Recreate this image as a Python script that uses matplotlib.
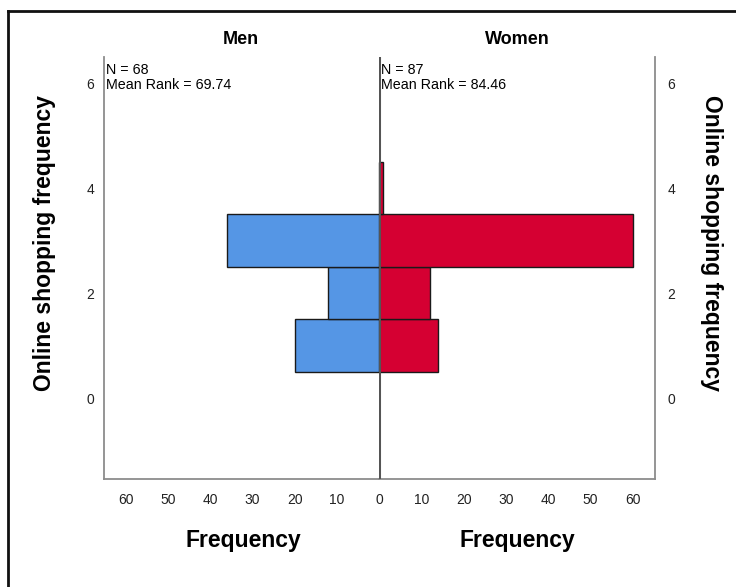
import matplotlib
matplotlib.use("Agg")
import matplotlib.pyplot as plt

plt.rcParams['font.family'] = ['Liberation Sans', 'DejaVu Sans']

# frequency per category (categories 1..4)
categories = [1, 2, 3, 4]
men_freq = [20, 12, 36, 0]
women_freq = [14, 12, 60, 1]
men_n, men_rank = 68, 69.74
women_n, women_rank = 87, 84.46
x_ticks_left = [0, 10, 20, 30, 40, 50, 60]
x_ticks_right = [10, 20, 30, 40, 50, 60]
y_ticks = [0, 2, 4, 6]

blue = '#5596e5'
red = '#d50032'
spine_col = '#8c8c8c'

fig = plt.figure(figsize=(7.36, 5.87), dpi=100)
W, H = 736, 587

def box(x0, y0, x1, y1):
    return [x0 / W, 1 - y1 / H, (x1 - x0) / W, (y1 - y0) / H]

axL = fig.add_axes(box(104, 57, 379, 479))
axR = fig.add_axes(box(379, 57, 655, 479))

for ax, freq, col, xt in [(axL, men_freq, blue, x_ticks_left),
                          (axR, women_freq, red, x_ticks_right)]:
    ax.barh(categories, freq, height=1.0, color=col, edgecolor='#1a1a1a',
            linewidth=1.0)
    ax.set_xlim(0, 65.2)
    ax.set_ylim(-1.54, 6.5)
    ax.set_xticks(xt)
    ax.set_yticks(y_ticks)
    ax.tick_params(axis='x', length=0, labelsize=10, colors='#222222', pad=10)
    ax.tick_params(axis='y', length=0, labelsize=10, colors='#222222', pad=7)
    for s in ax.spines.values():
        s.set_color(spine_col)
        s.set_linewidth(1.3)
    ax.spines['top'].set_visible(False)

axL.invert_xaxis()
axL.spines['right'].set_visible(False)
axR.spines['left'].set_visible(False)
axR.yaxis.tick_right()
axR.tick_params(axis='y', pad=9)

# center line
axR.axvline(0, color='#555555', linewidth=2.2, zorder=5)

# axis labels
fig.text(243 / W, 1 - 541 / H, 'Frequency', ha='center', va='center',
         fontsize=16.5, fontweight='bold')
fig.text(517 / W, 1 - 541 / H, 'Frequency', ha='center', va='center',
         fontsize=16.5, fontweight='bold')
fig.text(45 / W, 1 - 243 / H, 'Online shopping frequency', ha='center',
         va='center', rotation=90, fontsize=16.5, fontweight='bold')
fig.text(712 / W, 1 - 243 / H, 'Online shopping frequency', ha='center',
         va='center', rotation=270, fontsize=16.5, fontweight='bold')

# panel titles
fig.text(241 / W, 1 - 40 / H, 'Men', ha='center', va='center',
         fontsize=13, fontweight='bold')
fig.text(517 / W, 1 - 40 / H, 'Women', ha='center', va='center',
         fontsize=13, fontweight='bold')

axL.text(0.008, 0.985, 'N = %d\nMean Rank = %.2f' % (men_n, men_rank),
         transform=axL.transAxes, ha='left', va='top', fontsize=10.3,
         linespacing=1.1)
axR.text(0.008, 0.985, 'N = %d\nMean Rank = %.2f' % (women_n, women_rank),
         transform=axR.transAxes, ha='left', va='top', fontsize=10.3,
         linespacing=1.1)

# outer frame (top and left edges visible)
fig.add_artist(plt.Line2D([8 / W, 1], [1 - 11 / H, 1 - 11 / H], color='#111111',
                          linewidth=2, transform=fig.transFigure))
fig.add_artist(plt.Line2D([8 / W, 8 / W], [0, 1 - 11 / H], color='#111111',
                          linewidth=2, transform=fig.transFigure))

fig.savefig('out.png', dpi=100)
